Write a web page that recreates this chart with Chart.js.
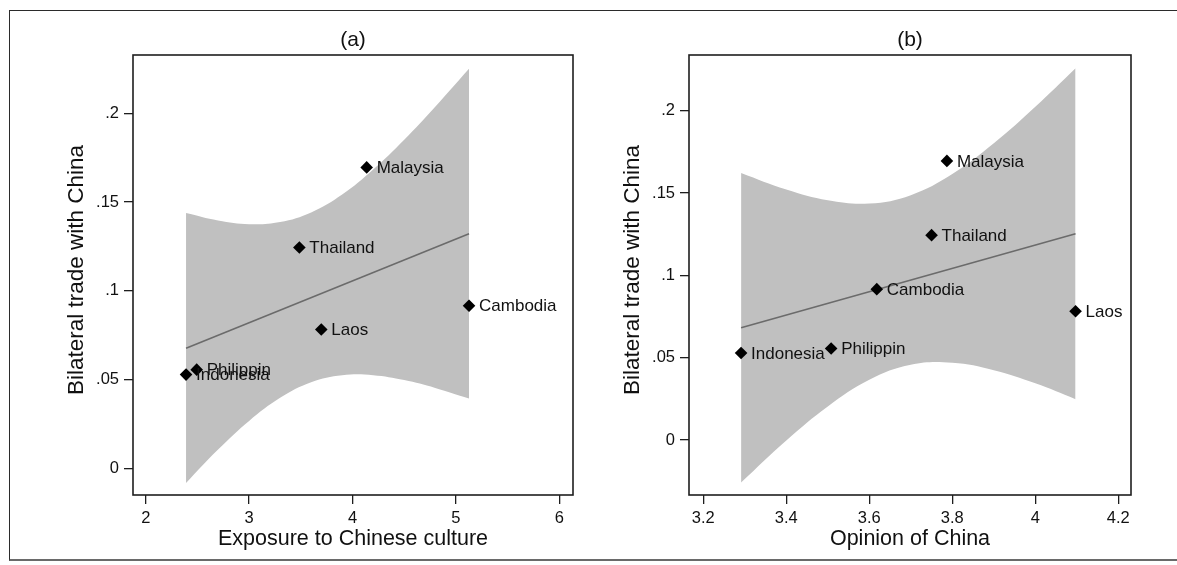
<!DOCTYPE html>
<html>
<head>
<meta charset="utf-8">
<script src="https://cdn.jsdelivr.net/npm/chart.js@4.4.1/dist/chart.umd.min.js"></script>
<style>
  html, body { margin: 0; padding: 0; background: #fff; }
  #page { position: relative; width: 1177px; height: 565px; overflow: hidden; background: #fff; }
  #frame {
    position: absolute; left: 9px; top: 10px; width: 1200px; height: 548px;
    border-left: 1px solid #2b2b2b; border-top: 1px solid #2b2b2b; border-bottom: 2px solid #6a6a6a;
  }
  canvas { position: absolute; top: 0; }
</style>
</head>
<body>
<div id="page">
  <div id="frame"></div>
  <canvas id="panelA" width="590" height="565" style="left:0"></canvas>
  <canvas id="panelB" width="587" height="565" style="left:590px"></canvas>
</div>
<script>
// Countries and their bilateral trade share with China
const countries   = ['Malaysia', 'Thailand', 'Laos', 'Cambodia', 'Philippin', 'Indonesia'];
const tradeShare  = [0.1695, 0.1244, 0.0782, 0.0916, 0.0556, 0.0528];

// Explanatory variables
const cultureExposure = [4.137, 3.486, 3.698, 5.127, 2.493, 2.390];
const opinionOfChina  = [3.787, 3.750, 4.097, 3.618, 3.508, 3.291];

// Fitted lines (end points)
const fitAX = [2.390, 5.127];
const fitAY = [0.0677, 0.1321];
const fitBX = [3.291, 4.097];
const fitBY = [0.0682, 0.1253];

// 95% confidence band, panel (a)
const bandAX     = [2.39, 2.7, 3.0, 3.3, 3.6, 3.9, 4.2, 4.5, 4.8, 5.127];
const bandAUpper = [0.1438, 0.1396, 0.1375, 0.1387, 0.1441, 0.1542, 0.1683, 0.1851, 0.2037, 0.2251];
const bandALower = [-0.0082, 0.0106, 0.0267, 0.0397, 0.0485, 0.0524, 0.0525, 0.0497, 0.0453, 0.0393];

// 95% confidence band, panel (b)
const bandBX     = [3.291, 3.4, 3.5, 3.6, 3.7, 3.8, 3.9, 4.0, 4.097];
const bandBUpper = [0.1622, 0.1521, 0.1456, 0.1436, 0.1487, 0.1615, 0.1802, 0.2024, 0.2258];
const bandBLower = [-0.0258, -0.0003, 0.0204, 0.0366, 0.0457, 0.0469, 0.0424, 0.0344, 0.0248];

// Axis ticks
const yTicks       = [0, 0.05, 0.1, 0.15, 0.2];
const yTickLabels  = ['0', '.05', '.1', '.15', '.2'];
const xTicksA      = [2, 3, 4, 5, 6];
const xTickLabelsA = ['2', '3', '4', '5', '6'];
const xTicksB      = [3.2, 3.4, 3.6, 3.8, 4.0, 4.2];
const xTickLabelsB = ['3.2', '3.4', '3.6', '3.8', '4', '4.2'];

const FONT = '"Liberation Sans", Arial, Helvetica, sans-serif';
const INK = '#1e1e1e';

const zip = (xs, ys) => xs.map((x, i) => ({ x, y: ys[i] }));

// Plot box, marker labels and titles
const panelDecor = {
  id: 'panelDecor',
  afterDraw(chart, args, o) {
    const { ctx, chartArea: a } = chart;
    ctx.save();
    ctx.strokeStyle = INK;
    ctx.lineWidth = 1.6;
    ctx.strokeRect(a.left, a.top, a.right - a.left, a.bottom - a.top);

    ctx.fillStyle = '#111';
    ctx.font = '17px ' + FONT;
    ctx.textAlign = 'left';
    ctx.textBaseline = 'middle';
    chart.getDatasetMeta(0).data.forEach((pt, i) => {
      ctx.fillText(o.names[i], pt.x + 10, pt.y + 1);
    });

    const cx = (a.left + a.right) / 2;
    ctx.font = '21px ' + FONT;
    ctx.textAlign = 'center';
    ctx.textBaseline = 'alphabetic';
    ctx.fillText(o.title, cx, 46);
    ctx.font = '21.5px ' + FONT;
    ctx.fillText(o.xTitle, cx, 545);

    ctx.font = '22.5px ' + FONT;
    ctx.translate(a.left - 50, 270);
    ctx.rotate(-Math.PI / 2);
    ctx.fillText(o.yTitle, 0, 0);
    ctx.restore();
  }
};

function makePanel(id, cfg) {
  const band = {
    borderWidth: 0,
    borderColor: 'rgba(0,0,0,0)',
    pointRadius: 0,
    cubicInterpolationMode: 'default',
    tension: 0.4
  };
  const datasets = [
    {
      data: zip(cfg.xs, tradeShare),
      showLine: false,
      pointStyle: 'rectRot',
      pointRadius: 6.3,
      pointHoverRadius: 6.3,
      pointBackgroundColor: '#000',
      pointBorderColor: '#000',
      pointBorderWidth: 0,
      order: 0
    },
    {
      data: zip(cfg.fitX, cfg.fitY),
      borderColor: '#6b6b6b',
      borderWidth: 1.6,
      pointRadius: 0,
      fill: false,
      order: 1
    },
    Object.assign({ data: zip(cfg.bandX, cfg.upper), backgroundColor: '#c0c0c0', fill: '+1', order: 2 }, band),
    Object.assign({ data: zip(cfg.bandX, cfg.lower), fill: false, order: 3 }, band)
  ];

  const tickFont = { family: FONT, size: 16.5 };

  return new Chart(document.getElementById(id), {
    type: 'line',
    data: { datasets },
    options: {
      responsive: false,
      animation: false,
      devicePixelRatio: 1,
      events: [],
      layout: { padding: { left: 0, top: 55, right: cfg.padRight, bottom: 10 } },
      plugins: {
        legend: { display: false },
        tooltip: { enabled: false },
        panelDecor: { names: countries, title: cfg.title, xTitle: cfg.xTitle, yTitle: 'Bilateral trade with China' }
      },
      scales: {
        x: {
          type: 'linear',
          min: cfg.xMin,
          max: cfg.xMax,
          afterBuildTicks: s => { s.ticks = cfg.xTicks.map(v => ({ value: v })); },
          afterFit: s => { s.height = 60; },
          ticks: {
            autoSkip: false,
            maxRotation: 0,
            padding: 5,
            color: '#111',
            font: tickFont,
            callback: (v, i) => cfg.xTickLabels[i]
          },
          grid: { drawOnChartArea: false, drawTicks: true, tickLength: 9, color: INK, lineWidth: 1.3 },
          border: { display: false }
        },
        y: {
          type: 'linear',
          min: cfg.yMin,
          max: cfg.yMax,
          afterBuildTicks: s => { s.ticks = yTicks.map(v => ({ value: v })); },
          afterFit: s => { s.width = cfg.yWidth; },
          ticks: {
            autoSkip: false,
            padding: 5,
            color: '#111',
            font: tickFont,
            callback: (v, i) => yTickLabels[i]
          },
          grid: { drawOnChartArea: false, drawTicks: true, tickLength: 9, color: INK, lineWidth: 1.3 },
          border: { display: false }
        }
      }
    },
    plugins: [panelDecor]
  });
}

makePanel('panelA', {
  title: '(a)',
  xTitle: 'Exposure to Chinese culture',
  xs: cultureExposure,
  fitX: fitAX, fitY: fitAY,
  bandX: bandAX, upper: bandAUpper, lower: bandALower,
  xTicks: xTicksA, xTickLabels: xTickLabelsA,
  xMin: 1.877, xMax: 6.1325,
  yMin: -0.0150, yMax: 0.2328,
  yWidth: 133, padRight: 17
});

makePanel('panelB', {
  title: '(b)',
  xTitle: 'Opinion of China',
  xs: opinionOfChina,
  fitX: fitBX, fitY: fitBY,
  bandX: bandBX, upper: bandBUpper, lower: bandBLower,
  xTicks: xTicksB, xTickLabels: xTickLabelsB,
  xMin: 3.1655, xMax: 4.2306,
  yMin: -0.0334, yMax: 0.2338,
  yWidth: 99, padRight: 46
});
</script>
</body>
</html>
